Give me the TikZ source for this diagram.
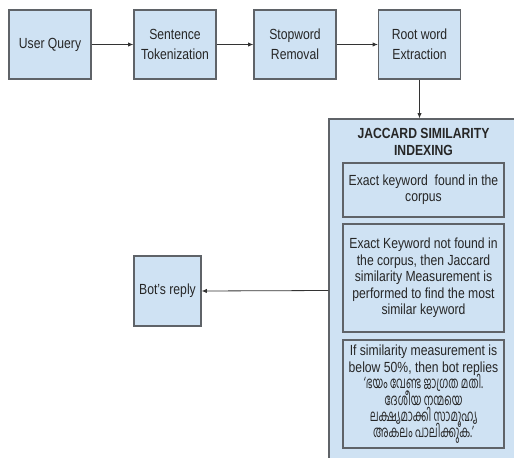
\documentclass[tikz,border=0pt]{standalone}
\usepackage{fontspec}
\setmainfont{Liberation Sans}[FakeStretch=0.83]
\newfontfamily\malfont[Script=Malayalam,FakeStretch=0.62,Scale=1.1]{Hind Kochi}
\newcommand{\mltext}[1]{\smash{\malfont #1}}
\usetikzlibrary{arrows.meta}
\definecolor{boxfill}{HTML}{CFE2F3}
\definecolor{boxline}{HTML}{5F6368}

\begin{document}
\begin{tikzpicture}
      [x=.75pt,y=-.75pt
      ,box/.style={draw=boxline,fill=boxfill,line width=.8pt,inner sep=0pt,align=center,
        font=\fontsize{11}{15}\selectfont,text=black!85}
      ,topbox/.style={box,minimum width=61.5pt,minimum height=51.75pt}
      ,inbox/.style={box,minimum width=120.75pt,font=\fontsize{11}{12.3}\selectfont}
      ,arr/.style={draw=black!80,line width=.6pt,-{Latex[length=4pt,width=3.2pt]}}
      ]
        \useasboundingbox (0,0) rectangle (514,457);
        \clip (0,0) rectangle (514,457);
        \node[topbox] (query) at (50,44.5) {User Query};
        \node[topbox] (tok) at (175,44.5) {Sentence\\Tokenization};
        \node[topbox] (stop) at (295,44.5) {Stopword\\Removal};
        \node[topbox] (root) at (419.5,44.5) {Root word\\Extraction};
        \node[box,minimum width=147pt,minimum height=257.25pt] (jac) at (427,290.5) {};
        \node[align=center,inner sep=0pt,font=\fontsize{11}{12.3}\selectfont\bfseries,text=black!85] (title) at (423.5,142)
          {JACCARD SIMILARITY\\INDEXING};
        \node[inbox,minimum height=40.5pt] (exact) at (423.5,190)
          {Exact keyword\ \ found in the\\corpus};
        \node[inbox,minimum height=81pt] (notfound) at (423.5,278)
          {Exact Keyword not found in\\the corpus, then Jaccard\\similarity Measurement is\\performed to find the most\\similar keyword};
        \node[inbox,minimum height=81pt] (below) at (423.5,394)
          {If similarity measurement is\\below 50\%, then bot replies\\
           \mltext{‘ഭയം വേണ്ട ജാഗ്രത മതി.}\\\mltext{ദേശീയ നന്മയെ}\\
           \mltext{ലക്ഷ്യമാക്കി സാമൂഹ്യ}\\\mltext{അകലം പാലിക്കുക.’}\strut};
        \node[box,minimum width=50.25pt,minimum height=52.5pt] (bot) at (167.5,291) {Bot’s reply};

        \draw[arr] (query) -- (tok);
        \draw[arr] (tok) -- (stop);
        \draw[arr] (stop) -- (root);
        \draw[arr] (root.south) -- (root.south |- jac.north);
        \draw[arr] (jac.west) -- (bot.east);

      \end{tikzpicture}
\end{document}
